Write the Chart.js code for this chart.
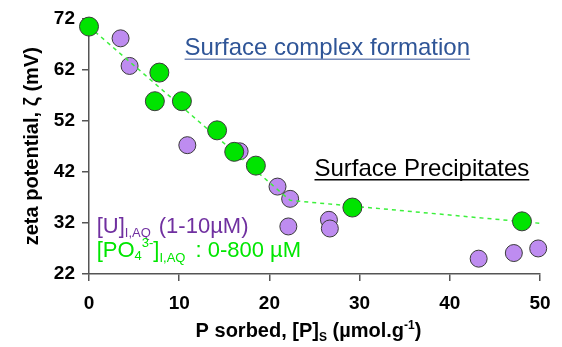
<!DOCTYPE html>
<html>
<head>
<meta charset="utf-8">
<script src="https://cdn.jsdelivr.net/npm/chart.js@4"></script>
<style>
	html, body { margin: 0; padding: 0; background: #fff; }
	#wrap { width: 562px; height: 347px; }
</style>
</head>
<body>
<div id="wrap"><canvas id="zetaChart" width="562" height="347"></canvas></div>
<script>
// Фосфат: сорбция P и дзета-потенциал
const greenX = [0, 7.8, 7.3, 10.3, 14.2, 16.1, 18.5, 29.2, 48.0];
const greenY = [70.4, 61.4, 55.8, 55.8, 50.1, 45.9, 43.2, 35.0, 32.3];

// Уран + фосфат
const purpleX = [3.5, 4.5, 10.9, 16.7, 20.9, 22.3, 22.1, 26.6, 26.7, 43.2, 47.1, 49.8];
const purpleY = [68.1, 62.7, 47.2, 46.0, 39.1, 36.7, 31.3, 32.6, 30.9, 25.0, 26.1, 27.0];

// Линия тренда (два участка)
const trendX = [0, 22.3, 50.1];
const trendY = [70.4, 36.4, 31.9];

const xTicks = [0, 10, 20, 30, 40, 50];
const yTicks = [22, 32, 42, 52, 62, 72];

const FONT = '"Liberation Sans", Arial, sans-serif';

const toPoints = (xs, ys) => xs.map((x, i) => ({ x: x, y: ys[i] }));

// Текст с индексами: части [текст, размер, смещение по y, доп. отступ]
function drawRich(ctx, x, y, parts, color, weight) {
	ctx.fillStyle = color;
	ctx.textAlign = 'left';
	ctx.textBaseline = 'alphabetic';
	let cx = x;
	parts.forEach(p => {
		ctx.font = (weight || 'normal') + ' ' + p[1] + 'px ' + FONT;
		ctx.fillText(p[0], cx, y + (p[2] || 0));
		cx += ctx.measureText(p[0]).width + (p[3] || 0);
	});
	return cx - x;
}

function underline(ctx, x, y, w, color) {
	ctx.strokeStyle = color;
	ctx.lineWidth = 1.5;
	ctx.beginPath();
	ctx.moveTo(x, y);
	ctx.lineTo(x + w, y);
	ctx.stroke();
}

const labelsPlugin = {
	id: 'labelsPlugin',
	afterDraw(chart) {
		const ctx = chart.ctx;
		const xs = chart.scales.x;
		const ys = chart.scales.y;
		const area = chart.chartArea;
		ctx.save();

		// подписи областей
		let px = xs.getPixelForValue(10.6), py = ys.getPixelForValue(64.8);
		let w = drawRich(ctx, px, py, [['Surface complex formation', 24]], 'rgb(47, 85, 151)');
		underline(ctx, px, py + 4, w, 'rgb(120, 140, 185)');

		px = xs.getPixelForValue(25.0); py = ys.getPixelForValue(41.2);
		w = drawRich(ctx, px, py, [['Surface Precipitates', 24]], '#000');
		underline(ctx, px, py + 4, w, '#000');

		// условия опытов
		px = xs.getPixelForValue(0.85); py = ys.getPixelForValue(30.1);
		drawRich(ctx, px, py, [['[U]', 22], ['I,AQ', 13, 4, 8], ['(1-10µM)', 22]], 'rgb(112, 48, 160)');

		py = ys.getPixelForValue(25.3);
		drawRich(ctx, px, py, [['[PO', 22], ['4', 13, 3, 0], ['3-', 13, -10, 0], [']', 22], ['I,AQ', 13, 5, 10], [': 0-800 µM', 22]], 'rgb(0, 230, 0)');

		// заголовок оси X
		const parts = [['P sorbed, [P]', 20], ['S', 12, 4], [' (µmol.g', 20], ['-1', 12, -8], [')', 20]];
		let total = 0;
		parts.forEach(p => {
			ctx.font = 'bold ' + p[1] + 'px ' + FONT;
			total += ctx.measureText(p[0]).width;
		});
		drawRich(ctx, (area.left + area.right) / 2 - 6 - total / 2, 337, parts, '#000', 'bold');

		// заголовок оси Y
		ctx.translate(32, (area.top + area.bottom) / 2);
		ctx.rotate(-Math.PI / 2);
		ctx.font = 'bold 20px ' + FONT;
		ctx.textAlign = 'center';
		ctx.textBaseline = 'middle';
		ctx.fillStyle = '#000';
		ctx.fillText('zeta potential, ζ (mV)', 0, 0);

		ctx.restore();
	}
};

const data = {
	datasets: [{
		type: 'scatter',
		label: 'P',
		data: toPoints(greenX, greenY),
		backgroundColor: 'rgb(0, 228, 0)',
		borderColor: '#3a3a3a',
		borderWidth: 1,
		pointRadius: 9.5,
		pointHoverRadius: 9.5,
		order: 0,
		clip: false
	}, {
		type: 'line',
		label: 'trend',
		data: toPoints(trendX, trendY),
		borderColor: 'rgb(60, 240, 60)',
		borderWidth: 1.5,
		borderDash: [4, 4],
		pointRadius: 0,
		fill: false,
		tension: 0,
		order: 1,
		clip: false
	}, {
		type: 'scatter',
		label: 'U',
		data: toPoints(purpleX, purpleY),
		backgroundColor: 'rgb(190, 140, 240)',
		borderColor: '#3a3a3a',
		borderWidth: 1,
		pointRadius: 8.5,
		pointHoverRadius: 8.5,
		order: 2,
		clip: false
	}]
};

const options = {
	responsive: false,
	animation: false,
	layout: {
		padding: { top: 16, right: 22, left: 0, bottom: 0 }
	},
	plugins: {
		legend: { display: false },
		tooltip: { enabled: false }
	},
	scales: {
		x: {
			type: 'linear',
			min: 0,
			max: 50,
			afterBuildTicks: scale => { scale.ticks = xTicks.map(v => ({ value: v })); },
			afterFit: scale => { scale.height = 73; },
			border: { color: '#555', width: 1.5 },
			grid: { drawOnChartArea: false, color: '#555', lineWidth: 1.5, tickLength: 7 },
			ticks: {
				color: '#000',
				padding: 11,
				maxRotation: 0,
				font: { family: FONT, size: 19, weight: 'bold' }
			}
		},
		y: {
			type: 'linear',
			min: 22,
			max: 72,
			afterBuildTicks: scale => { scale.ticks = yTicks.map(v => ({ value: v })); },
			afterFit: scale => { scale.width = 89; },
			border: { color: '#555', width: 1.5 },
			grid: { drawOnChartArea: false, color: '#555', lineWidth: 1.5, tickLength: 7 },
			ticks: {
				color: '#000',
				padding: 7,
				font: { family: FONT, size: 19, weight: 'bold' }
			}
		}
	}
};

new Chart(document.getElementById('zetaChart'), {
	data: data,
	options: options,
	plugins: [labelsPlugin]
});
</script>
</body>
</html>
